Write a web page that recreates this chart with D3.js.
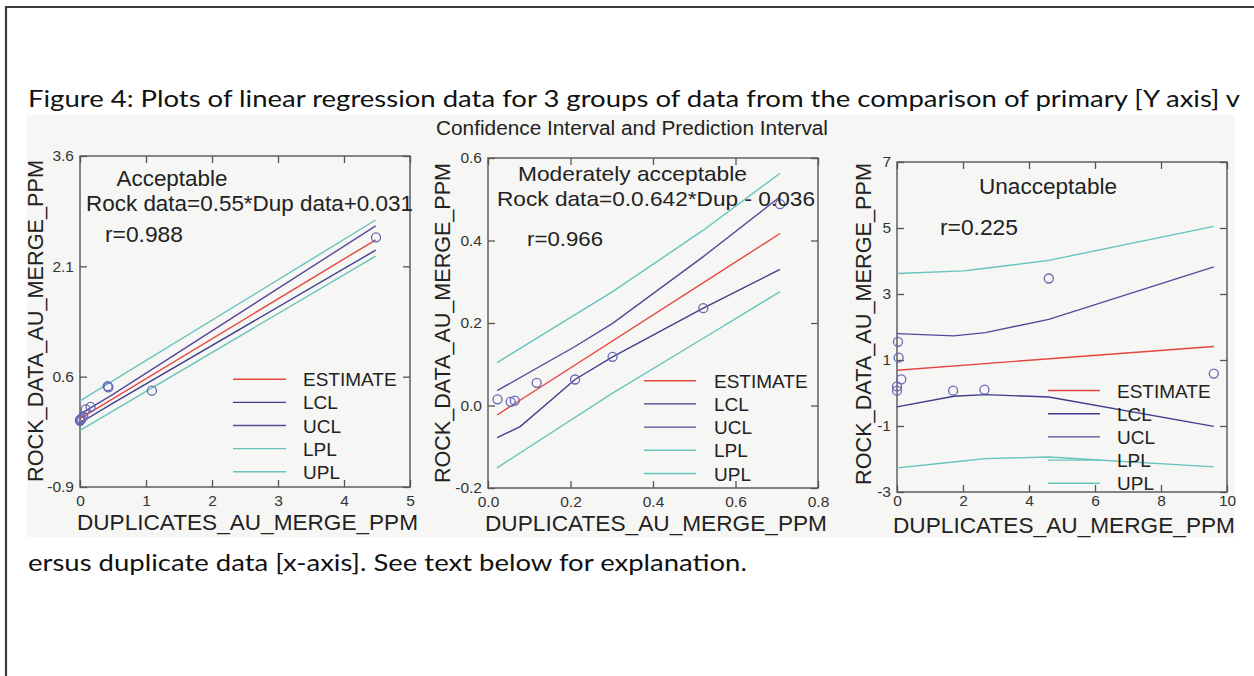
<!DOCTYPE html>
<html>
<head>
<meta charset="utf-8">
<script src="https://cdn.jsdelivr.net/npm/d3@7/dist/d3.min.js"></script>
<style>
	html, body { margin: 0; padding: 0; background: #fff; }
	svg { display: block; }
	.chart-text { font-family: 'Liberation Sans', Arial, sans-serif; fill: #222; }
</style>
</head>
<body>
<svg id="figure"></svg>
<script>
/* global d3 */

// Caption and shared texts
const captionTop = 'Figure 4: Plots of linear regression data for 3 groups of data from the comparison of primary [Y axis] v';
const captionBottom = 'ersus duplicate data [x-axis]. See text below for explanation.';
const chartTitle = 'Confidence Interval and Prediction Interval';
const xAxisTitle = 'DUPLICATES_AU_MERGE_PPM';
const yAxisTitle = 'ROCK_DATA_AU_MERGE_PPM';
const legendNames = [ 'ESTIMATE', 'LCL', 'UCL', 'LPL', 'UPL' ];

// Panel 1 - acceptable
const p1XTicks = [ 0, 1, 2, 3, 4, 5 ];
const p1XLabels = [ '0', '1', '2', '3', '4', '5' ];
const p1YTicks = [ -0.9, 0.6, 2.1, 3.6 ];
const p1YLabels = [ '-0.9', '0.6', '2.1', '3.6' ];
const p1Notes = [ 'Acceptable', 'Rock data=0.55*Dup data+0.031', 'r=0.988' ];
const p1Points = [ [ 0, 0.0 ], [ 0, 0.01 ], [ 0.01, 0.02 ], [ 0.025, 0.03 ], [ 0.05, 0.06 ], [ 0.086, 0.156 ],
	[ 0.16, 0.19 ], [ 0.42, 0.47 ], [ 0.43, 0.455 ], [ 1.09, 0.41 ], [ 4.485, 2.495 ] ];
const p1Estimate = [ [ 0, 0.03 ], [ 4.48, 2.46 ] ];
const p1Lcl = [ [ 0, -0.03 ], [ 0.5, 0.24 ], [ 4.48, 2.32 ] ];
const p1Ucl = [ [ 0, 0.09 ], [ 0.5, 0.36 ], [ 4.48, 2.65 ] ];
const p1Lpl = [ [ 0, -0.13 ], [ 4.48, 2.24 ] ];
const p1Upl = [ [ 0, 0.27 ], [ 4.48, 2.73 ] ];

// Panel 2 - moderately acceptable
const p2XTicks = [ 0, 0.2, 0.4, 0.6, 0.8 ];
const p2XLabels = [ '0.0', '0.2', '0.4', '0.6', '0.8' ];
const p2YTicks = [ -0.2, 0, 0.2, 0.4, 0.6 ];
const p2YLabels = [ '-0.2', '0.0', '0.2', '0.4', '0.6' ];
const p2Notes = [ 'Moderately acceptable', 'Rock data=0.0.642*Dup - 0.036', 'r=0.966' ];
const p2Points = [ [ 0.023, 0.015 ], [ 0.055, 0.009 ], [ 0.065, 0.012 ], [ 0.118, 0.055 ], [ 0.211, 0.063 ],
	[ 0.302, 0.118 ], [ 0.522, 0.236 ], [ 0.708, 0.488 ] ];
const p2Estimate = [ [ 0.022, -0.023 ], [ 0.708, 0.417 ] ];
const p2Lcl = [ [ 0.022, -0.078 ], [ 0.078, -0.051 ], [ 0.211, 0.063 ], [ 0.302, 0.118 ], [ 0.522, 0.236 ], [ 0.708, 0.33 ] ];
const p2Ucl = [ [ 0.022, 0.036 ], [ 0.211, 0.143 ], [ 0.302, 0.199 ], [ 0.522, 0.361 ], [ 0.708, 0.506 ] ];
const p2Lpl = [ [ 0.022, -0.151 ], [ 0.302, 0.03 ], [ 0.522, 0.163 ], [ 0.708, 0.276 ] ];
const p2Upl = [ [ 0.022, 0.104 ], [ 0.302, 0.276 ], [ 0.522, 0.425 ], [ 0.708, 0.563 ] ];

// Panel 3 - unacceptable
const p3XTicks = [ 0, 2, 4, 6, 8, 10 ];
const p3XLabels = [ '0', '2', '4', '6', '8', '10' ];
const p3YTicks = [ -3, -1, 1, 3, 5, 7 ];
const p3YLabels = [ '-3', '-1', '1', '3', '5', '7' ];
const p3Notes = [ 'Unacceptable', 'r=0.225' ];
const p3Points = [ [ 0, 0.2 ], [ 0, 0.07 ], [ 0.03, 1.55 ], [ 0.05, 1.07 ], [ 0.13, 0.41 ], [ 1.7, 0.07 ],
	[ 2.65, 0.1 ], [ 4.6, 3.47 ], [ 9.6, 0.59 ] ];
const p3Estimate = [ [ 0, 0.69 ], [ 9.6, 1.41 ] ];
const p3Lcl = [ [ 0, -0.42 ], [ 1.72, -0.1 ], [ 2.68, -0.05 ], [ 4.6, -0.12 ], [ 9.6, -1.01 ] ];
const p3Ucl = [ [ 0, 1.8 ], [ 1.72, 1.73 ], [ 2.68, 1.83 ], [ 4.6, 2.23 ], [ 9.6, 3.82 ] ];
const p3Lpl = [ [ 0, -2.27 ], [ 1.72, -2.09 ], [ 2.68, -1.99 ], [ 4.6, -1.94 ], [ 9.6, -2.24 ] ];
const p3Upl = [ [ 0, 3.62 ], [ 2.02, 3.7 ], [ 2.68, 3.78 ], [ 4.6, 4.02 ], [ 9.6, 5.05 ] ];

const colors = {
	estimate: '#e5463d',
	lcl: '#3e3e8e',
	ucl: '#57489c',
	band: '#66c4bf',
	point: '#6666b6',
	axis: '#555',
};
const legendColors = [ colors.estimate, colors.lcl, colors.ucl, colors.band, colors.band ];

const width = 1254;
const height = 676;

const svg = d3.select( '#figure' )
	.attr( 'width', width )
	.attr( 'height', height );

// page frame (only top and left edges fall inside the crop)
svg.append( 'path' )
	.attr( 'd', `M6,${ height } V7 H${ width }` )
	.attr( 'fill', 'none' )
	.attr( 'stroke', '#3a3a3a' )
	.attr( 'stroke-width', 2.2 );

// caption lines, sharing one squeeze factor so they read as the same font
const capTop = svg.append( 'text' )
	.attr( 'x', 28 )
	.attr( 'y', 107 )
	.style( 'font-family', 'Lato, "Open Sans", sans-serif' )
	.style( 'font-size', '24px' )
	.attr( 'fill', '#111' )
	.text( captionTop );
const capBottom = svg.append( 'text' )
	.attr( 'x', 28 )
	.attr( 'y', 571 )
	.style( 'font-family', 'Lato, "Open Sans", sans-serif' )
	.style( 'font-size', '24px' )
	.attr( 'fill', '#111' )
	.text( captionBottom );
const squeeze = 1212 / capTop.node().getComputedTextLength();
[ capTop, capBottom ].forEach( ( t ) => {
	t.attr( 'textLength', t.node().getComputedTextLength() * squeeze )
		.attr( 'lengthAdjust', 'spacingAndGlyphs' );
} );

// grey plot image background
svg.append( 'rect' )
	.attr( 'x', 27 )
	.attr( 'y', 115 )
	.attr( 'width', 1208 )
	.attr( 'height', 422 )
	.attr( 'fill', '#f6f6f4' );

svg.append( 'text' )
	.attr( 'class', 'chart-text' )
	.attr( 'x', 632 )
	.attr( 'y', 135 )
	.attr( 'text-anchor', 'middle' )
	.attr( 'textLength', 392 )
	.attr( 'lengthAdjust', 'spacingAndGlyphs' )
	.style( 'font-size', '20px' )
	.attr( 'fill', '#333' )
	.text( chartTitle );

const panels = [
	{
		box: { x: 80, y: 156, w: 330, h: 331 },
		xDomain: [ 0, 5 ], yDomain: [ -0.9, 3.6 ],
		xTicks: p1XTicks, xLabels: p1XLabels, yTicks: p1YTicks, yLabels: p1YLabels, xPad: 8,
		points: p1Points,
		series: [ p1Estimate, p1Lcl, p1Ucl, p1Lpl, p1Upl ],
		notes: p1Notes,
		notePos: [ { x: 172, y: 186, len: 111, anchor: 'middle' }, { x: 86, y: 211, len: 327 }, { x: 105, y: 242, len: 78 } ],
		noteSize: 22,
		legend: { x1: 233, x2: 286, tx: 303, y0: 379.3, step: 23.1 },
		xTitle: { x: 247.5, y: 530, len: 341 },
		yTitle: { x: 43, y: 321, len: 322 },
	},
	{
		box: { x: 488, y: 158, w: 330, h: 330 },
		xDomain: [ 0, 0.8 ], yDomain: [ -0.2, 0.6 ],
		xTicks: p2XTicks, xLabels: p2XLabels, yTicks: p2YTicks, yLabels: p2YLabels, xPad: 8,
		points: p2Points,
		series: [ p2Estimate, p2Lcl, p2Ucl, p2Lpl, p2Upl ],
		notes: p2Notes,
		notePos: [ { x: 632.5, y: 181, len: 229, anchor: 'middle' }, { x: 497, y: 206, len: 318 }, { x: 527, y: 246, len: 76 } ],
		noteSize: 21,
		legend: { x1: 644, x2: 696, tx: 714, y0: 380.7, step: 23.2 },
		xTitle: { x: 656, y: 530.5, len: 342 },
		yTitle: { x: 450, y: 323, len: 320 },
	},
	{
		box: { x: 897, y: 162, w: 330, h: 330 },
		xDomain: [ 0, 10 ], yDomain: [ -3, 7 ],
		xTicks: p3XTicks, xLabels: p3XLabels, yTicks: p3YTicks, yLabels: p3YLabels, xPad: 3,
		points: p3Points,
		series: [ p3Estimate, p3Lcl, p3Ucl, p3Lpl, p3Upl ],
		notes: p3Notes,
		notePos: [ { x: 1048, y: 194, len: 138, anchor: 'middle' }, { x: 940, y: 235, len: 78 } ],
		noteSize: 22,
		legend: { x1: 1048, x2: 1100, tx: 1117, y0: 390.5, step: 23.2 },
		xTitle: { x: 1064, y: 533, len: 342 },
		yTitle: { x: 871, y: 324, len: 322 },
	},
];

panels.forEach( drawPanel );

/**
 * Draw one regression panel
 *
 * @param {Object} p - Panel settings
 */
function drawPanel( p ) {
	const { box } = p;
	const x = d3.scaleLinear().domain( p.xDomain ).range( [ box.x, box.x + box.w ] );
	const y = d3.scaleLinear().domain( p.yDomain ).range( [ box.y + box.h, box.y ] );
	const g = svg.append( 'g' );

	// inward ticks on all four sides, labels only left and bottom
	const axes = [
		{ axis: d3.axisBottom( x ).tickValues( p.xTicks ).tickFormat( ( d, i ) => p.xLabels[ i ] ).tickPadding( p.xPad ), t: `translate(0,${ box.y + box.h })` },
		{ axis: d3.axisTop( x ).tickValues( p.xTicks ).tickFormat( '' ), t: `translate(0,${ box.y })` },
		{ axis: d3.axisLeft( y ).tickValues( p.yTicks ).tickFormat( ( d, i ) => p.yLabels[ i ] ).tickPadding( 6 ), t: `translate(${ box.x },0)` },
		{ axis: d3.axisRight( y ).tickValues( p.yTicks ).tickFormat( '' ), t: `translate(${ box.x + box.w },0)` },
	];
	axes.forEach( ( a ) => {
		const ag = g.append( 'g' )
			.attr( 'transform', a.t )
			.call( a.axis.tickSizeInner( -7 ).tickSizeOuter( 0 ) );
		ag.select( '.domain' ).remove();
		ag.selectAll( '.tick line' )
			.attr( 'stroke', colors.axis )
			.attr( 'stroke-width', 1.3 );
		ag.selectAll( '.tick text' )
			.style( 'font-family', '"Liberation Sans", Arial, sans-serif' )
			.style( 'font-size', '15.5px' )
			.attr( 'fill', '#333' );
	} );

	g.append( 'rect' )
		.attr( 'x', box.x )
		.attr( 'y', box.y )
		.attr( 'width', box.w )
		.attr( 'height', box.h )
		.attr( 'fill', 'none' )
		.attr( 'stroke', colors.axis )
		.attr( 'stroke-width', 1.4 );

	const line = d3.line()
		.x( ( d ) => x( d[ 0 ] ) )
		.y( ( d ) => y( d[ 1 ] ) );

	// draw bands first, estimate on top
	[ 4, 3, 2, 1, 0 ].forEach( ( i ) => {
		g.append( 'path' )
			.datum( p.series[ i ] )
			.attr( 'd', line )
			.attr( 'fill', 'none' )
			.attr( 'stroke', legendColors[ i ] )
			.attr( 'stroke-width', 1.4 );
	} );

	g.selectAll( 'circle.pt' )
		.data( p.points )
		.enter()
		.append( 'circle' )
		.attr( 'class', 'pt' )
		.attr( 'cx', ( d ) => x( d[ 0 ] ) )
		.attr( 'cy', ( d ) => y( d[ 1 ] ) )
		.attr( 'r', 4.5 )
		.attr( 'fill', 'none' )
		.attr( 'stroke', colors.point )
		.attr( 'stroke-width', 1.3 );

	// annotations
	p.notes.forEach( ( txt, i ) => {
		const pos = p.notePos[ i ];
		g.append( 'text' )
			.attr( 'class', 'chart-text' )
			.attr( 'x', pos.x )
			.attr( 'y', pos.y )
			.attr( 'text-anchor', pos.anchor || 'start' )
			.attr( 'textLength', pos.len )
			.attr( 'lengthAdjust', 'spacingAndGlyphs' )
			.style( 'font-size', `${ p.noteSize }px` )
			.text( txt );
	} );

	// legend
	const lg = p.legend;
	legendNames.forEach( ( name, i ) => {
		const ly = lg.y0 + ( i * lg.step );
		g.append( 'line' )
			.attr( 'x1', lg.x1 )
			.attr( 'x2', lg.x2 )
			.attr( 'y1', ly )
			.attr( 'y2', ly )
			.attr( 'stroke', legendColors[ i ] )
			.attr( 'stroke-width', 1.4 );
		g.append( 'text' )
			.attr( 'class', 'chart-text' )
			.attr( 'x', lg.tx )
			.attr( 'y', ly + 7 )
			.style( 'font-size', '19px' )
			.text( name );
	} );

	// axis titles
	g.append( 'text' )
		.attr( 'class', 'chart-text' )
		.attr( 'x', p.xTitle.x )
		.attr( 'y', p.xTitle.y )
		.attr( 'text-anchor', 'middle' )
		.attr( 'textLength', p.xTitle.len )
		.attr( 'lengthAdjust', 'spacingAndGlyphs' )
		.style( 'font-size', '22px' )
		.text( xAxisTitle );

	g.append( 'text' )
		.attr( 'class', 'chart-text' )
		.attr( 'transform', `translate(${ p.yTitle.x },${ p.yTitle.y }) rotate(-90)` )
		.attr( 'text-anchor', 'middle' )
		.attr( 'textLength', p.yTitle.len )
		.attr( 'lengthAdjust', 'spacingAndGlyphs' )
		.style( 'font-size', '22px' )
		.text( yAxisTitle );
}
</script>
</body>
</html>
